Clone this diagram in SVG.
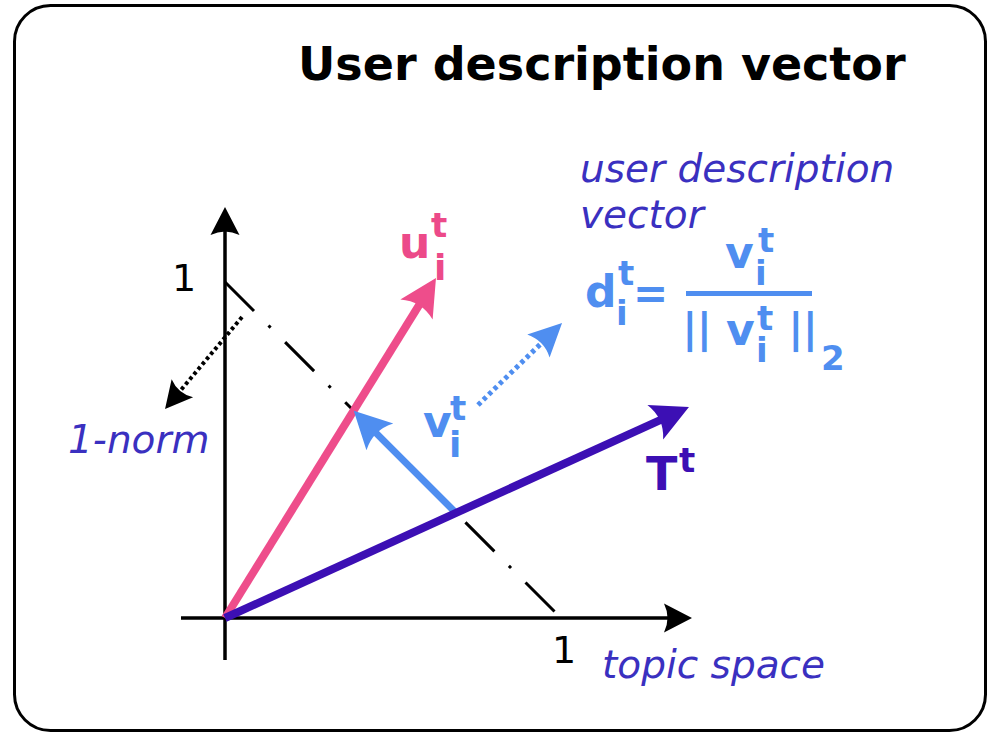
<svg xmlns="http://www.w3.org/2000/svg" width="992" height="733" viewBox="0 0 992 733">
<style>
text{font-family:"DejaVu Sans","Liberation Sans",sans-serif}
.b{font-weight:bold}
.it{font-style:italic;fill:#3a30c0;font-size:39px}
.pk{fill:#ec4a89}
.lb{fill:#4f8ef0}
.ind{fill:#3c0fb4}
.num{font-size:38px;fill:#000}
.s{font-size:34px}
.m{font-size:44px}
</style>
<defs>
<marker id="hPink" markerUnits="userSpaceOnUse" orient="auto" refX="0" refY="0" markerWidth="60" markerHeight="60" viewBox="-30 -30 60 60" overflow="visible"><path d="M25,0 L-12,-19 Q-2,0 -12,19 Z" fill="#ee4d8b"/></marker>
<marker id="hInd" markerUnits="userSpaceOnUse" orient="auto" refX="0" refY="0" markerWidth="60" markerHeight="60" viewBox="-30 -30 60 60" overflow="visible"><path d="M25,0 L-12,-19 Q-2,0 -12,19 Z" fill="#3c0fb4"/></marker>
<marker id="hBlue" markerUnits="userSpaceOnUse" orient="auto" refX="0" refY="0" markerWidth="60" markerHeight="60" viewBox="-30 -30 60 60" overflow="visible"><path d="M25,0 L-12,-19 Q-2,0 -12,19 Z" fill="#4f8ef0"/></marker>
<marker id="hBlueS" markerUnits="userSpaceOnUse" orient="auto" refX="0" refY="0" markerWidth="60" markerHeight="60" viewBox="-30 -30 60 60" overflow="visible"><path d="M22,0 L-11,-16 Q-3,0 -11,16 Z" fill="#4f8ef0"/></marker>
<marker id="hAxis" markerUnits="userSpaceOnUse" orient="auto" refX="0" refY="0" markerWidth="60" markerHeight="60" viewBox="-30 -30 60 60" overflow="visible"><path d="M20,0 L-8,-14.5 Q-1,0 -8,14.5 Z" fill="#000"/></marker>
<marker id="hBlackS" markerUnits="userSpaceOnUse" orient="auto" refX="0" refY="0" markerWidth="60" markerHeight="60" viewBox="-30 -30 60 60" overflow="visible"><path d="M18,0 L-9,-14 Q-2,0 -9,14 Z" fill="#000"/></marker>
</defs>
<rect width="992" height="733" fill="#fff"/>
<g id="frame"><rect x="14.5" y="5.5" width="971" height="725" rx="36" fill="none" stroke="#000" stroke-width="3"/></g>
<g id="title"><text x="298" y="80" class="b" font-size="46px" fill="#000">User description vector</text></g>
<g id="axes" fill="none" stroke="#000" stroke-width="3.5">
<path d="M225,660 L225,227" marker-end="url(#hAxis)"/>
<path d="M181,618 L672,618" marker-end="url(#hAxis)"/>
</g>
<g id="connectors" fill="none">
<path id="norm-line" d="M225,282 L555,612" stroke="#000" stroke-width="3" stroke-dasharray="41 20.5 3 20.5"/>
<path id="u-vec" d="M225,618 L422.8,299.2" stroke="#ee4d8b" stroke-width="8" marker-end="url(#hPink)"/>
<path id="v-vec" d="M456,513 L371.4,428.4" stroke="#4f8ef0" stroke-width="7" marker-end="url(#hBlue)"/>
<path id="T-vec" d="M225,618 L666.2,417.3" stroke="#3c0fb4" stroke-width="8" marker-end="url(#hInd)"/>
<path id="v-to-d" d="M478,405 L546.3,338.4" stroke="#4f8ef0" stroke-width="5" stroke-dasharray="4 3.5" marker-end="url(#hBlueS)"/>
<path id="norm-pointer" d="M242,317 L176.6,395.2" stroke="#000" stroke-width="4" stroke-dasharray="3.5 3" marker-end="url(#hBlackS)"/>
</g>
<g id="tick-labels">
<text x="172" y="291" class="num">1</text>
<text x="552" y="663" class="num">1</text>
</g>
<g id="label-1norm"><text x="68" y="453" class="it">1-norm</text></g>
<g id="label-topic"><text x="602" y="678" class="it">topic space</text></g>
<g id="label-udv"><text x="580" y="182" class="it">user description</text><text x="580" y="228" class="it">vector</text></g>
<g id="label-u" class="b pk">
<text x="399" y="258" class="m">u</text>
<text x="431" y="237" class="s">t</text>
<text x="434" y="280" font-size="36px">i</text>
</g>
<g id="label-v" class="b lb">
<text x="423" y="437" class="m">v</text>
<text x="450" y="420" class="s">t</text>
<text x="449" y="457" font-size="36px">i</text>
</g>
<g id="label-T" class="b ind">
<text x="646" y="490" font-size="46px">T</text>
<text x="679" y="472" class="s">t</text>
</g>
<g id="formula" class="b lb">
<text x="585" y="307" class="m">d</text>
<text x="618" y="285" class="s">t</text>
<text x="616" y="325" class="s">i</text>
<text x="633" y="308" font-size="42px">=</text>
<text x="725" y="268" class="m">v</text>
<text x="758" y="252" class="s">t</text>
<text x="755" y="285" class="s">i</text>
<rect x="686" y="291" width="126" height="5" fill="#4f8ef0"/>
<text x="682.5" y="342" font-size="40px">||</text>
<text x="726" y="345" class="m">v</text>
<text x="757" y="330" class="s">t</text>
<text x="756" y="362" class="s">i</text>
<text x="788.5" y="342" font-size="40px">||</text>
<text x="821" y="370" class="s">2</text>
</g>
</svg>
